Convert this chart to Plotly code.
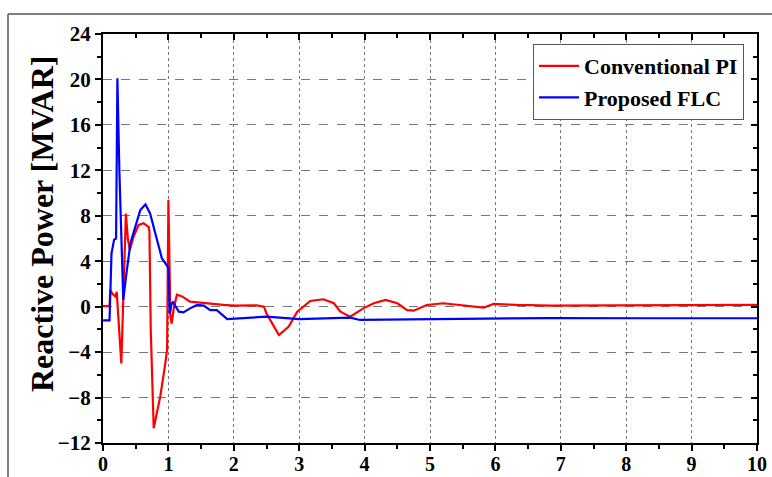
import plotly.graph_objects as go

# Conventional PI (red)
pi_t = [0, 0.10, 0.11, 0.15, 0.19, 0.21, 0.28, 0.35, 0.38, 0.41, 0.47, 0.545, 0.62, 0.70, 0.71,
        0.73, 0.775, 0.876, 0.95, 0.98, 1.0, 1.03, 1.05, 1.08, 1.13, 1.21, 1.33, 1.54, 1.84, 2.0,
        2.35, 2.46, 2.5, 2.6, 2.69, 2.84, 2.97, 3.17, 3.37, 3.53, 3.63, 3.78, 3.98, 4.14, 4.32,
        4.5, 4.65, 4.75, 4.95, 5.2, 5.57, 5.82, 5.97, 6.33, 6.84, 7.5, 8.3, 9.0, 10.0]
pi_v = [0.05, 0.05, 1.45, 1.1, 0.9, 1.3, -5.0, 8.2, 6.0, 5.0, 6.2, 7.2, 7.35, 7.0, 6.6,
        -2.0, -10.7, -7.9, -5.1, -3.8, 9.4, -0.8, -1.5, -0.2, 1.05, 0.9, 0.44, 0.3, 0.15, 0.1,
        0.12, 0.0, -0.6, -1.6, -2.5, -1.76, -0.44, 0.5, 0.65, 0.3, -0.44, -0.88, -0.15, 0.3, 0.6,
        0.3, -0.3, -0.35, 0.15, 0.3, 0.06, -0.09, 0.24, 0.15, 0.1, 0.12, 0.15, 0.15, 0.15]

# Proposed FLC (blue)
flc_t = [0, 0.10, 0.13, 0.17, 0.20, 0.22, 0.25, 0.31, 0.36, 0.42, 0.57, 0.65, 0.72, 0.83, 0.90,
         0.99, 1.0, 1.02, 1.05, 1.07, 1.16, 1.23, 1.33, 1.44, 1.54, 1.64, 1.74, 1.9, 2.5, 3.0,
         3.78, 3.93, 5.06, 6.07, 6.84, 8.3, 10.0]
flc_v = [-1.2, -1.2, 4.7, 5.9, 6.0, 20.1, 12.0, 0.6, 3.0, 5.6, 8.5, 9.0, 8.2, 5.9, 4.26,
         3.5, 3.4, -0.6, 0.3, 0.4, -0.44, -0.5, -0.15, 0.15, 0.1, -0.3, -0.3, -1.1, -0.88, -1.1,
         -0.96, -1.17, -1.1, -1.0, -1.0, -1.02, -1.02]

x_ticks = [0, 1, 2, 3, 4, 5, 6, 7, 8, 9, 10]
y_ticks = [-12, -8, -4, 0, 4, 8, 12, 16, 20, 24]
y_title = "Reactive Power [MVAR]"

FONT = "Liberation Serif"
L, R, T, B = 103, 15, 34, 34
PW, PH = 772 - L - R, 477 - T - B

fig = go.Figure()
fig.add_trace(go.Scatter(x=pi_t, y=pi_v, mode="lines", name="Conventional PI",
                         line=dict(color="#ff0000", width=2.2)))
fig.add_trace(go.Scatter(x=flc_t, y=flc_v, mode="lines", name="Proposed FLC",
                         line=dict(color="#0000ff", width=2.2)))
# dummy trace to anchor top/right mirror axes
fig.add_trace(go.Scatter(x=[None], y=[None], xaxis="x2", yaxis="y2", showlegend=False,
                         hoverinfo="skip"))

axis_common = dict(showline=True, linecolor="black", linewidth=2, zeroline=False,
                   ticklen=6, tickwidth=2, tickcolor="black", automargin=False)

fig.update_layout(
    width=772, height=477,
    margin=dict(l=L, r=R, t=T, b=B, autoexpand=False),
    paper_bgcolor="white", plot_bgcolor="white",
    font=dict(family=FONT, color="black"),
    showlegend=True,
    legend=dict(x=(533 - L) / PW, y=(477 - B - 44) / PH, xanchor="left", yanchor="top",
                bgcolor="white", bordercolor="#555555", borderwidth=1,
                font=dict(family=FONT, size=22, color="black", weight="bold"),
                tracegroupgap=0, itemwidth=40),
    xaxis=dict(range=[0, 10], tickvals=x_ticks, ticks="outside",
               tickfont=dict(family=FONT, size=20, weight="bold"), ticklabelstandoff=-4,
               showgrid=True, gridcolor="#777777", griddash="dot", gridwidth=1,
               minor=dict(dtick=0.5, ticks="outside", ticklen=4, tickwidth=2, tickcolor="black",
                          showgrid=False),
               **axis_common),
    yaxis=dict(range=[-12, 24], tickvals=y_ticks, ticks="outside",
               tickfont=dict(family=FONT, size=21, weight="bold"),
               showgrid=True, gridcolor="#777777", griddash="dash", gridwidth=1,
               minor=dict(dtick=2, ticks="outside", ticklen=4, tickwidth=2, tickcolor="black",
                          showgrid=False),
               **axis_common),
    xaxis2=dict(range=[0, 10], overlaying="x", side="top", tickvals=x_ticks, ticks="inside",
                showticklabels=False, showgrid=False,
                minor=dict(dtick=0.5, ticks="inside", ticklen=4, tickwidth=2, tickcolor="black"),
                **axis_common),
    yaxis2=dict(range=[-12, 24], overlaying="y", side="right", tickvals=y_ticks, ticks="inside",
                showticklabels=False, showgrid=False,
                minor=dict(dtick=2, ticks="inside", ticklen=4, tickwidth=2, tickcolor="black"),
                **axis_common),
    annotations=[
        dict(text=y_title, xref="paper", yref="paper", x=(42 - L) / PW, y=(477 - B - 224) / PH,
             xanchor="center", yanchor="middle", textangle=-90, showarrow=False,
             font=dict(family=FONT, size=32, weight="bold", color="black")),
    ],
    shapes=[
        dict(type="line", xref="paper", yref="paper", x0=(8 - L) / PW, x1=(8 - L) / PW,
             y0=(477 - B - 14) / PH, y1=(477 - B - 480) / PH, line=dict(color="#555555", width=1.5)),
        dict(type="line", xref="paper", yref="paper", x0=(8 - L) / PW, x1=(775 - L) / PW,
             y0=(477 - B - 14) / PH, y1=(477 - B - 14) / PH, line=dict(color="#555555", width=1.5)),
    ],
)

fig.write_html("out.html", config={"displayModeBar": False},
               post_script="document.body.style.margin='0';document.body.style.overflow='hidden';")
